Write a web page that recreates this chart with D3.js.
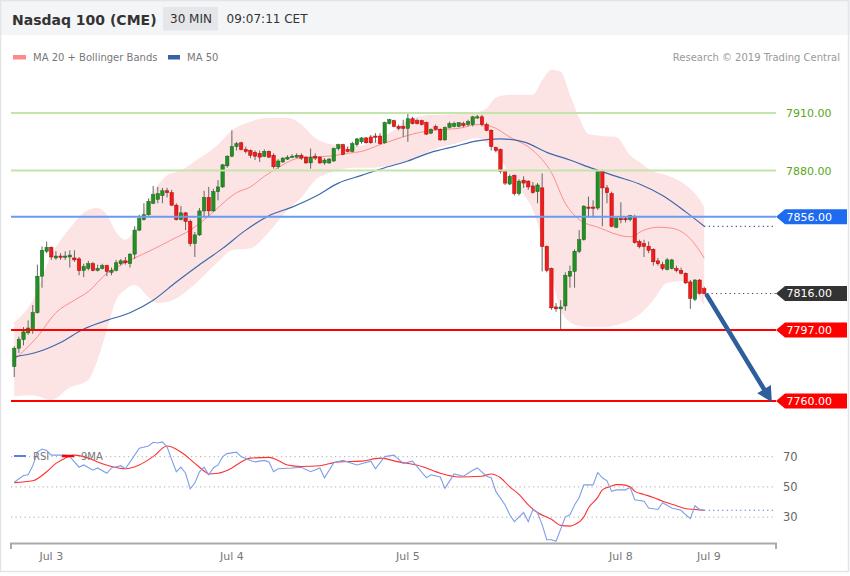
<!DOCTYPE html>
<html><head><meta charset="utf-8">
<script src="https://cdn.jsdelivr.net/npm/d3@7"></script>
<style>body{margin:0;background:#fff;}svg{display:block;font-family:"DejaVu Sans",Verdana,sans-serif;}</style>
</head><body><svg id="c" width="850" height="576"></svg>
<script>
// ---- candles (30 min) ----
const opens=[7778,7787.5,7792,7795.5,7797,7806,7825,7838,7840,7834.5,7835.5,7835,7835,7834.5,7834,7828,7829,7831.5,7828,7829,7830.5,7827,7828,7831.5,7833,7831.5,7836.5,7849,7854.5,7857,7863,7865,7867,7869.5,7868.5,7862,7854.5,7858,7853.5,7842,7846.5,7859,7866,7859,7869,7871.5,7882.5,7887.5,7892.5,7894.5,7891,7890.5,7889.5,7889,7887.5,7890,7888,7882,7884.5,7886,7887,7887,7888,7887,7884,7887.5,7887,7884,7884,7885,7891.5,7893.5,7891,7890,7893.5,7895,7897,7897.5,7898,7898,7894.5,7904.5,7906,7903,7903,7902,7907,7906,7906,7905,7899.5,7903,7901.5,7896,7902.5,7903,7903,7904.5,7904,7904,7907.5,7908,7904,7901,7892,7891,7879.5,7873,7877.5,7868,7875,7874.5,7872,7869,7871,7840.5,7829,7809,7808,7809.5,7825,7827.5,7838,7844,7861,7861,7860.5,7879.5,7871,7868,7850.5,7855,7855,7854.5,7855.5,7843,7842,7840.5,7839,7833,7831,7828.5,7829,7829,7828,7826.5,7822,7813,7823,7818.5];
const highs=[7788.5,7793.5,7798.5,7802,7810,7831,7840.5,7843,7840.5,7838,7837,7838,7838.5,7838.5,7835,7831.5,7833,7832.5,7831,7831.5,7831,7829.5,7833.5,7834,7835,7837,7851,7857,7863,7865.5,7872,7871.5,7871,7871,7870,7863,7861.5,7858.5,7854.5,7848,7860.5,7869.5,7871.5,7870.5,7875,7883.5,7888,7901,7895,7895,7892.5,7891,7890.5,7890.5,7891,7890.5,7889,7886,7887,7888,7888.5,7889,7889,7887.5,7891.5,7889,7887.5,7886.5,7886.5,7892,7894,7894,7892.5,7895,7897,7897.5,7897.5,7898.5,7899.5,7899.5,7905.5,7907,7906.5,7904,7906.5,7910,7908,7907,7906.5,7905.5,7902,7904,7902,7903,7905.5,7905.5,7905,7905.5,7906.5,7908.5,7909,7909,7905,7901.5,7892.5,7891.5,7880.5,7878,7878,7875.5,7877,7875,7874,7873.5,7878.5,7841,7829.5,7811,7812.5,7827,7830.5,7839,7849,7862,7866.5,7864.5,7880.5,7880.5,7872.5,7869,7855.5,7863.5,7856,7857,7857,7844,7844,7843,7839.5,7834.5,7832.5,7834.5,7834,7830.5,7829.5,7827,7823,7823.5,7823.5,7819.5];
const lows=[7772.5,7785,7789,7794.5,7795,7805.5,7819,7837,7833.5,7833.5,7833.5,7833.5,7829.5,7832.5,7825.5,7824.5,7828,7827.5,7827.5,7828.5,7825,7825.5,7827.5,7830.5,7831,7829.5,7834,7848.5,7854,7856.5,7862.5,7863,7863,7866,7861.5,7854,7854,7849,7840.5,7835,7846,7856,7856,7858.5,7864.5,7871,7881.5,7887,7890.5,7890.5,7889,7886.5,7885.5,7884.5,7887,7886.5,7881,7881,7884,7885.5,7886.5,7886.5,7885.5,7883.5,7881,7885.5,7883.5,7883,7883.5,7884.5,7890.5,7888,7889.5,7889.5,7892.5,7894,7894,7894,7894.5,7893.5,7894,7904,7902.5,7901,7897.5,7895,7904,7904,7903.5,7898.5,7899,7901,7895.5,7895.5,7902,7902.5,7902.5,7902.5,7903,7903,7907,7903,7900.5,7890.5,7889.5,7878.5,7872.5,7872.5,7867,7867,7871,7870,7868,7863,7827.5,7827,7807.5,7806.5,7797,7807,7819,7819,7837,7843.5,7855.5,7855.5,7859.5,7851,7863,7850.5,7850,7852.5,7853,7853.5,7842,7839.5,7835,7837,7830.5,7830.5,7828,7828,7828.5,7827,7826,7821,7808,7812,7815.5,7815.5];
const closes=[7787.5,7792,7796,7798,7806,7825,7838.5,7840,7835,7835.5,7835,7835.5,7836,7833.5,7828,7830,7831.5,7828,7829,7830.5,7827.5,7828,7832,7833,7832,7836.5,7849,7855,7857,7864,7867.5,7868,7869.5,7868.5,7862,7854.5,7858,7853.5,7842,7846.5,7859,7866,7859,7869,7871.5,7883,7887.5,7892.5,7894,7891,7890,7888,7887.5,7887,7890,7887,7882,7885,7886.5,7887,7887.5,7888,7886.5,7884,7887,7886.5,7884,7885.5,7886,7891.5,7893.5,7888.5,7890,7894,7896.5,7897,7894.5,7894.5,7897.5,7894,7905,7906.5,7903,7902,7902,7907,7904.5,7904.5,7904,7899,7901.5,7901.5,7896,7902.5,7904.5,7904.5,7905,7903.5,7905.5,7908,7908,7904,7901,7892.5,7890.5,7879.5,7873.5,7877,7868,7874.5,7873.5,7871.5,7868.5,7872.5,7840.5,7828,7808.5,7808,7809,7825.5,7827.5,7838,7844,7861.5,7860.5,7860.5,7879.5,7871,7868.5,7851,7855,7854.5,7854.5,7856.5,7842.5,7840.5,7840.5,7838.5,7832.5,7831.5,7829,7833.5,7833.5,7828,7826.5,7821.5,7813.5,7823,7816,7816];

// ---- indicators (read at sample candles) ----
const bandIdx=[0,4,8,12,16,18,20,22,24,26,29,31,33,36,40,44,47,51,55,59,62,65,69,73,77,82,86,90,96,100,102,104,107,110,112,114,116,118,120,122,124,127,130,133,135,138,141,145,148,149];
const bandUpper=[7801,7812.5,7836,7850,7859.5,7860.5,7857,7848,7844,7849,7864.5,7872.5,7877.5,7880,7886.5,7893.5,7901,7905.5,7907.5,7907.5,7904,7897,7893.5,7892.5,7894.5,7901,7907.5,7909,7909.5,7910.5,7912.5,7918,7919.5,7919.5,7919.5,7927,7932.5,7931.5,7919.5,7907.5,7899,7898,7897.5,7888,7884.5,7879.5,7877.5,7872.5,7865,7861];
const bandLower=[7762.5,7763,7760.5,7767,7771,7781.5,7797,7812.5,7818,7820.5,7814,7811,7811.5,7815,7823,7832.5,7838.5,7839.5,7848,7859.5,7866,7875,7879.5,7881.5,7881.5,7883,7885.5,7890.5,7894.5,7897,7894.5,7890.5,7877.5,7867.5,7859.5,7844,7825.5,7807.5,7801,7799,7798.5,7798.5,7799.5,7802,7805,7812.5,7821.5,7822.5,7813.5,7809.5];
const ma20Idx=[0,5,9,13,16,20,22,26,30,34,38,43,46,48,51,54,57,60,63,68,72,75,79,82,86,89,93,96,100,103,107,112,116,119,122,126,133,136,139,142,146,149];
const ma20=[7781.5,7793.5,7806,7812.5,7817,7826.5,7829.5,7834.5,7839,7844,7849,7858.5,7865,7868.5,7871.5,7877,7881.5,7885.5,7887,7887.5,7889,7890,7893.5,7896,7899,7900.5,7901.5,7902,7904,7903,7897.5,7890.5,7879,7863,7854.5,7850.5,7845.5,7849,7850.5,7850,7844.5,7834.5];
const ma50Idx=[0,5,10,15,20,25,30,35,40,45,50,55,60,65,70,75,80,85,90,95,100,105,110,115,120,125,130,135,140,145,149];
const ma50=[7783,7785.5,7790.5,7797.5,7802,7806,7812.5,7822,7831,7839.5,7849,7856.5,7861,7866.5,7873.5,7877.5,7881.5,7885,7889.5,7892.5,7895.5,7896.5,7895,7889.5,7885.5,7881,7877,7873,7867,7858.5,7851];
const rsiIdx=[0,2,3,4,5,6,7,8,11,12,14,15,17,18,20,21,23,24,26,27,29,30,31,32,33,34,35,36,37,38,39,40,41,42,43,44,45,46,48,49,51,52,54,55,56,57,60,62,64,66,67,69,71,74,77,78,80,82,84,86,89,90,92,93,95,97,99,100,102,103,104,106,107,108,110,111,112,113,114,115,116,117,118,119,120,121,122,123,125,126,127,128,129,130,132,133,134,136,137,139,140,142,144,145,146,147,148,149];
const rsiVal=[53,57.5,58,64,73,75,74,71,71,70,63,64.5,61,62.5,59,62.5,64,62,71,75.5,77,79.5,79,79.7,76.5,68,60,63,59,48.7,52.5,60,63,58,62.5,64.5,70,72,73,70,67.5,66.5,67.5,66.5,60,62,62.5,63,60,62.5,56,66,67.5,64.5,67,62,70,71,65.5,67,56,58,56.5,49,58.5,57,61,62.5,57,56,47,38,31.5,27,33,27,35,33,25,15,15,14,22,30,31.5,38,43,51.3,51.3,59.5,56,54,47,48,48,49.5,41.5,40.5,36,35,39.5,36,34.5,31.5,29,37.5,35,34.5];
const sma9Idx=[0,4,7,9,11,13,16,18,21,24,27,30,33,36,39,41,42,44,47,49,51,55,57,59,62,66,70,75,79,83,88,92,96,101,103,105,107,109,111,113,116,118,120,121,123,124,126,127,129,130,131,133,134,136,138,140,143,145,147,149];
const sma9=[52.8,54,60,65.5,69,71,69,66.5,63.5,62,64.5,70,77,73,65.5,60.5,58.5,59,62.5,66.5,69,69.5,67.5,64.5,63.5,64,66.5,67,69,66.5,63.5,59,56.5,57,58.5,56,50,45,38,33,28.5,24.5,24,25,30,36,43,48,50.5,51.5,51.5,50,47,45,43,40.5,37.5,35.5,35,34.5];

// ---- levels & labels ----
const greenLevels=[7910,7880];
const resistance=7856;
const lastPrice=7816;
const supports=[7797,7760];
const arrowFrom=[149.6,7815];
const arrowTo=[163.6,7759.5];
const dayIdx=[8,47,85,131,150];
const dayLabels=["Jul 3","Jul 4","Jul 5","Jul 8","Jul 9"];
const rsiTicks=[70,50,30];

const svg=d3.select('#c');
const x=d3.scaleLinear().domain([-0.7,164.5]).range([11,776]);
const y=d3.scaleLinear().domain([7760,7910]).range([401,113]);
const yr=d3.scaleLinear().domain([13.5,81]).range([542,440]);
const R=776;

svg.append('rect').attr('width',850).attr('height',576).attr('fill','#fff');
svg.append('rect').attr('x',0).attr('y',0).attr('width',850).attr('height',35).attr('fill','#f4f5f7');
svg.append('rect').attr('x',0.5).attr('y',0.5).attr('width',848).attr('height',571).attr('fill','none').attr('stroke','#e1e4e8').attr('stroke-width',1.5);

// header
svg.append('text').attr('x',12).attr('y',24.5).attr('font-size',14).attr('font-weight','bold').attr('fill','#333').text('Nasdaq 100 (CME)');
svg.append('rect').attr('x',163).attr('y',7).attr('width',55).attr('height',23.5).attr('fill','#e4e6ea');
svg.append('text').attr('x',170).attr('y',23).attr('font-size',12).attr('fill','#333').text('30 MIN');
svg.append('text').attr('x',226.5).attr('y',23).attr('font-size',12).attr('fill','#333').text('09:07:11 CET');

// legend
svg.append('rect').attr('x',13).attr('y',55).attr('width',13).attr('height',4.5).attr('fill','#f88');
svg.append('text').attr('x',33).attr('y',60.5).attr('font-size',10).attr('fill','#777').text('MA 20 + Bollinger Bands');
svg.append('rect').attr('x',168).attr('y',55).attr('width',12).attr('height',4.5).attr('fill','#3762a8');
svg.append('text').attr('x',187).attr('y',60.5).attr('font-size',10).attr('fill','#777').text('MA 50');
svg.append('text').attr('x',840).attr('y',60.5).attr('text-anchor','end').attr('font-size',10).attr('fill','#999').text('Research \u00a9 2019 Trading Central');

// bollinger band
const bi=d3.range(bandIdx.length);
svg.append('path').attr('d',d3.area().x(i=>x(bandIdx[i])).y0(i=>y(bandLower[i])).y1(i=>y(bandUpper[i])).curve(d3.curveMonotoneX)(bi))
  .attr('fill','#fde4e4');
svg.append('path').attr('d',d3.line().x(i=>x(ma20Idx[i])).y(i=>y(ma20[i])).curve(d3.curveMonotoneX)(d3.range(ma20.length)))
  .attr('fill','none').attr('stroke','#ff8c8c').attr('stroke-width',1);
svg.append('path').attr('d',d3.line().x(i=>x(ma50Idx[i])).y(i=>y(ma50[i])).curve(d3.curveMonotoneX)(d3.range(ma50.length)))
  .attr('fill','none').attr('stroke','#3e68ad').attr('stroke-width',1.2);

// candles
const cg=svg.append('g');
opens.forEach((o,i)=>{
  const cx=x(i), c=closes[i], up=c>=o;
  cg.append('line').attr('x1',cx).attr('x2',cx).attr('y1',y(highs[i])).attr('y2',y(lows[i])).attr('stroke','#666').attr('stroke-width',1);
  const top=y(Math.max(o,c)), h=Math.max(1.2,Math.abs(y(o)-y(c)));
  cg.append('rect').attr('x',cx-1.7).attr('y',top).attr('width',3.4).attr('height',h)
    .attr('fill',up?'#239023':'#ee1c1c').attr('stroke',up?'#17601a':'#b30000').attr('stroke-width',0.5);
});

// level lines
greenLevels.forEach(v=>{
  svg.append('line').attr('x1',11).attr('x2',R).attr('y1',y(v)).attr('y2',y(v)).attr('stroke','#c4e4ac').attr('stroke-width',2);
  svg.append('text').attr('x',786).attr('y',y(v)+4).attr('font-size',11).attr('fill','#5aa51c').text(v.toFixed(2));
});
svg.append('line').attr('x1',11).attr('x2',R).attr('y1',y(resistance)).attr('y2',y(resistance)).attr('stroke','#6b9bf0').attr('stroke-width',2);
supports.forEach(v=>{
  svg.append('line').attr('x1',11).attr('x2',R).attr('y1',y(v)).attr('y2',y(v)).attr('stroke','#ff0000').attr('stroke-width',2);
});
// dotted extensions
svg.append('line').attr('x1',x(149)).attr('x2',R).attr('y1',y(ma50[ma50.length-1])).attr('y2',y(ma50[ma50.length-1]))
  .attr('stroke','#36558f').attr('stroke-width',1.2).attr('stroke-dasharray','1.2,3.3');
svg.append('line').attr('x1',x(149.6)).attr('x2',R).attr('y1',y(lastPrice)).attr('y2',y(lastPrice))
  .attr('stroke','#444').attr('stroke-width',1.2).attr('stroke-dasharray','1.2,3.3');

// arrow
{
  const ax1=x(arrowFrom[0]), ay1=y(arrowFrom[1]), ax2=x(arrowTo[0]), ay2=y(arrowTo[1]);
  const dx=ax2-ax1, dy=ay2-ay1, L=Math.hypot(dx,dy), ux=dx/L, uy=dy/L, hl=15, hw=8;
  svg.append('line').attr('x1',ax1).attr('y1',ay1).attr('x2',ax2-ux*hl*0.8).attr('y2',ay2-uy*hl*0.8)
    .attr('stroke','#2e5e9c').attr('stroke-width',4.5).attr('stroke-linecap','round');
  const bx=ax2-ux*hl, by=ay2-uy*hl;
  svg.append('path').attr('d',`M${ax2},${ay2}L${bx-uy*hw},${by+ux*hw}L${bx+uy*hw},${by-ux*hw}Z`).attr('fill','#2e5e9c');
}

// price tags
function tag(v,fill){
  const cy=y(v);
  svg.append('path').attr('d',`M${R},${cy}L${R+9},${cy-7.5}L847,${cy-7.5}L847,${cy+7.5}L${R+9},${cy+7.5}Z`).attr('fill',fill);
  svg.append('text').attr('x',786.5).attr('y',cy+4).attr('font-size',11).attr('fill','#fff').text(v.toFixed(2));
}
tag(resistance,'#1f6bf0');
tag(lastPrice,'#333333');
supports.forEach(v=>tag(v,'#ff0000'));

// RSI panel
rsiTicks.forEach(t=>{
  svg.append('line').attr('x1',11).attr('x2',R).attr('y1',yr(t)).attr('y2',yr(t)).attr('stroke','#bbb').attr('stroke-width',1.2).attr('stroke-dasharray','1.2,3.3');
  svg.append('text').attr('x',783).attr('y',yr(t)+4).attr('font-size',11.5).attr('fill','#666').text(t);
});
svg.append('path').attr('d',d3.line().x(i=>x(sma9Idx[i])).y(i=>yr(sma9[i])).curve(d3.curveMonotoneX)(d3.range(sma9.length)))
  .attr('fill','none').attr('stroke','#ff3030').attr('stroke-width',1.1);
svg.append('path').attr('d',d3.line().x(i=>x(rsiIdx[i])).y(i=>yr(rsiVal[i]))(d3.range(rsiVal.length)))
  .attr('fill','none').attr('stroke','#7f9de8').attr('stroke-width',1.1);
svg.append('line').attr('x1',x(149)).attr('x2',R).attr('y1',yr(rsiVal[rsiVal.length-1])).attr('y2',yr(rsiVal[rsiVal.length-1]))
  .attr('stroke','#4a6fc9').attr('stroke-width',1.2).attr('stroke-dasharray','1.2,3.3');
// RSI legend
svg.append('line').attr('x1',14).attr('x2',26).attr('y1',456).attr('y2',456).attr('stroke','#5b80e0').attr('stroke-width',2);
svg.append('text').attr('x',33).attr('y',460).attr('font-size',10).attr('fill','#777').text('RSI');
svg.append('line').attr('x1',62).attr('x2',74).attr('y1',456).attr('y2',456).attr('stroke','#ff0000').attr('stroke-width',2.5);
svg.append('text').attr('x',81).attr('y',460).attr('font-size',10).attr('fill','#777').text('9MA');

// time axis
svg.append('path').attr('d',`M11,549V543.5H${R}V549`).attr('fill','none').attr('stroke','#aaa').attr('stroke-width',2);
dayIdx.forEach((d,i)=>{
  svg.append('text').attr('x',x(d)).attr('y',560).attr('text-anchor','middle').attr('font-size',11).attr('fill','#777').text(dayLabels[i]);
});
</script></body></html>
